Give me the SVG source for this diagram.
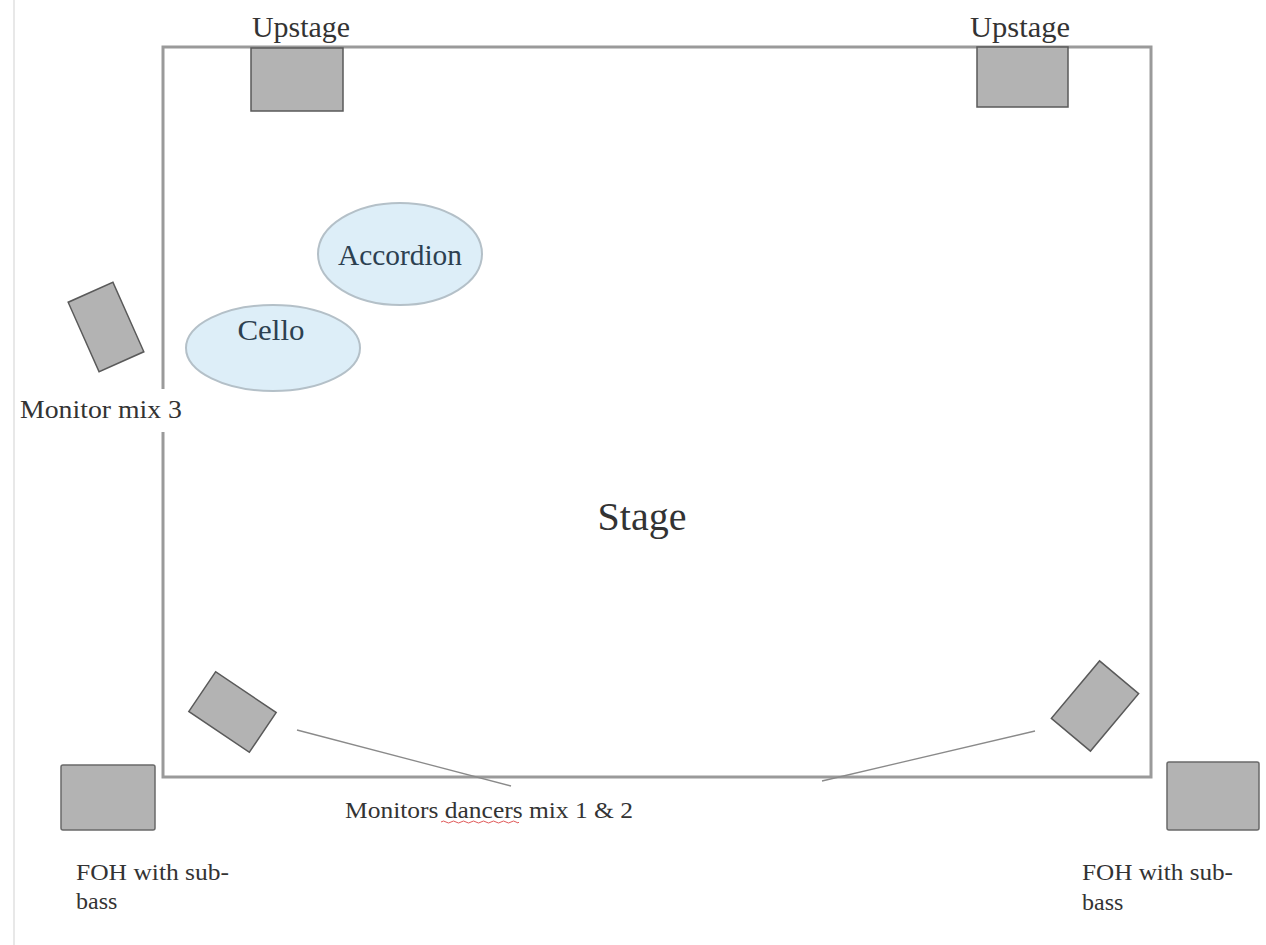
<svg xmlns="http://www.w3.org/2000/svg" width="1266" height="945" viewBox="0 0 1266 945">
<style>
.bg{fill:#ffffff}
.spk{fill:#b3b3b3;stroke:#5a5a5a;stroke-width:1.5}
.foh{fill:#b3b3b3;stroke:#6a6a6a;stroke-width:1.5}
.stage{fill:none;stroke:#9a9a9a;stroke-width:3}
.ell{fill:#ddeef8;stroke:#b4c0c8;stroke-width:2}
.lbl{font-family:"Liberation Serif","Times New Roman",serif;fill:#333333}
.inst{font-family:"Liberation Serif","Times New Roman",serif;fill:#2c4050;text-anchor:middle;font-size:29px}
.conn{fill:none;stroke:#8a8a8a;stroke-width:1.3}
</style>
<rect class="bg" x="0" y="0" width="1266" height="945"/>
<line x1="14" y1="0" x2="14" y2="945" stroke="#e8e8e8" stroke-width="2"/>

<g id="stage">
  <rect class="stage" x="163" y="47" width="988" height="730"/>
  <text class="lbl" x="642" y="530" font-size="40" text-anchor="middle" fill="#222222">Stage</text>
</g>

<g id="upstage-left">
  <rect class="spk" x="251" y="48" width="92" height="63"/>
  <text class="lbl" x="301" y="37" font-size="29" text-anchor="middle" textLength="98" lengthAdjust="spacingAndGlyphs">Upstage</text>
</g>

<g id="upstage-right">
  <rect class="spk" x="977" y="47" width="91" height="60"/>
  <text class="lbl" x="1020" y="37" font-size="29" text-anchor="middle" textLength="100" lengthAdjust="spacingAndGlyphs">Upstage</text>
</g>

<g id="accordion">
  <ellipse class="ell" cx="400" cy="254" rx="82" ry="51"/>
  <text class="inst" x="400" y="265" textLength="124" lengthAdjust="spacingAndGlyphs">Accordion</text>
</g>

<g id="cello">
  <ellipse class="ell" cx="273" cy="348" rx="87" ry="43"/>
  <text class="inst" x="271" y="340" textLength="67" lengthAdjust="spacingAndGlyphs">Cello</text>
</g>

<g id="monitor-mix-3">
  <rect class="spk" x="-24.5" y="-38" width="49" height="76" transform="translate(106,327) rotate(-24)"/>
  <rect class="bg" x="18" y="389" width="168" height="43"/>
  <text class="lbl" x="20" y="418" font-size="25" textLength="162" lengthAdjust="spacingAndGlyphs">Monitor mix 3</text>
</g>

<g id="monitor-dancers-left">
  <rect class="spk" x="-36.5" y="-24" width="73" height="48" transform="translate(232.5,712) rotate(34)"/>
</g>

<g id="monitor-dancers-right">
  <rect class="spk" x="-25.5" y="-37.5" width="51" height="75" transform="translate(1095,706) rotate(40)"/>
</g>

<g id="connectors">
  <line class="conn" x1="297" y1="730" x2="511" y2="786"/>
  <line class="conn" x1="1035" y1="731" x2="822" y2="781" stroke="#a0a0a0"/>
</g>

<g id="monitors-label">
  <text class="lbl" x="345" y="818" font-size="24" textLength="288" lengthAdjust="spacingAndGlyphs">Monitors dancers mix 1 &amp; 2</text>
  <path d="M441,822 q2.5,-2 5,0 t5,0 t5,0 t5,0 t5,0 t5,0 t5,0 t5,0 t5,0 t5,0 t5,0 t5,0 t5,0 t5,0 t5,0 t3,0" fill="none" stroke="#e05a5a" stroke-width="1"/>
</g>

<g id="foh-left">
  <rect class="foh" x="61" y="765" width="94" height="65" rx="2"/>
  <text class="lbl" font-size="24"><tspan x="76" y="880" textLength="153" lengthAdjust="spacingAndGlyphs">FOH with sub-</tspan><tspan x="76" y="909">bass</tspan></text>
</g>

<g id="foh-right">
  <rect class="foh" x="1167" y="762" width="92" height="68" rx="2"/>
  <text class="lbl" font-size="24"><tspan x="1082" y="880" textLength="151" lengthAdjust="spacingAndGlyphs">FOH with sub-</tspan><tspan x="1082" y="910">bass</tspan></text>
</g>
</svg>
